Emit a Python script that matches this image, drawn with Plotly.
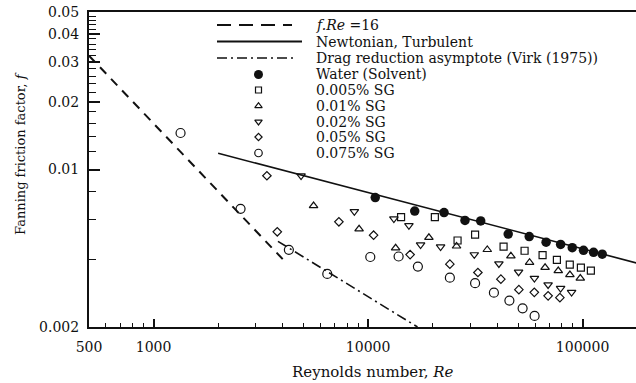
import plotly.graph_objects as go

# ---------------- data ----------------
re_lam = [500, 4000]
f_lam = [0.032, 0.004]
re_newt = [2000, 200000]
f_newt = [0.0118, 0.00374]
re_virk = [3800, 17000]
f_virk = [0.0048, 0.002]

water_re = [10800, 16500, 22600, 28300, 33500, 45000, 56400, 67600, 79000, 89500, 101000, 112500, 123500]
water_f = [0.00751, 0.00654, 0.00644, 0.00594, 0.00591, 0.00517, 0.00504, 0.00476, 0.00465, 0.00450, 0.00438, 0.00429, 0.00421]

sg005_re = [14250, 20480, 26130, 31540, 42820, 53650, 65090, 75900, 87160, 98200, 109300]
sg005_f = [0.00615, 0.00615, 0.00484, 0.00514, 0.00455, 0.00436, 0.00417, 0.00397, 0.00378, 0.00367, 0.00356]

sg01_re = [5570, 9080, 13440, 19210, 25850, 35950, 46320, 56610, 66860, 77030, 87270, 97570]
sg01_f = [0.00690, 0.00544, 0.00448, 0.00499, 0.00457, 0.00441, 0.00413, 0.00387, 0.00367, 0.00355, 0.00341, 0.00329]

sg02_re = [4870, 8630, 13190, 15500, 17570, 21780, 31270, 40720, 50300, 59620, 69060, 78970, 88870]
sg02_f = [0.00938, 0.00651, 0.00604, 0.00564, 0.00463, 0.00454, 0.00419, 0.00382, 0.00351, 0.00329, 0.00308, 0.00297, 0.00285]

sg05_re = [3375, 3773, 7310, 10610, 15700, 24060, 32500, 41600, 50470, 59550, 69060, 78390]
sg05_f = [0.00938, 0.00529, 0.00586, 0.00511, 0.00419, 0.00380, 0.00349, 0.00326, 0.00293, 0.00285, 0.00275, 0.00270]

sg075_re = [1336, 2544, 4273, 6454, 10240, 13880, 17070, 24060, 31540, 38600, 45580, 52530, 59740]
sg075_f = [0.01452, 0.00669, 0.00440, 0.00344, 0.00409, 0.00411, 0.00371, 0.00331, 0.00313, 0.00284, 0.00262, 0.00242, 0.00224]

x_tickvals = [500, 1000, 10000, 100000]
x_ticktext = ["500", "1000", "10000", "100000"]
x_minor = [600, 700, 800, 900, 2000, 3000, 4000, 5000, 6000, 7000, 8000, 9000,
           20000, 30000, 40000, 50000, 60000, 70000, 80000, 90000]
y_tickvals = [0.002, 0.01, 0.02, 0.03, 0.04, 0.05]
y_ticktext = ["0.002", "0.01", "0.02", "0.03", "0.04", "0.05"]
y_minor = [0.004, 0.006, 0.008, 0.012, 0.014, 0.016, 0.018, 0.022, 0.024, 0.026, 0.028,
           0.032, 0.034, 0.036, 0.038, 0.042, 0.044, 0.046, 0.048]

legend_labels = ["<i>f.Re</i> =16", "Newtonian, Turbulent",
                 "Drag reduction asymptote (Virk (1975))", "Water (Solvent)",
                 "0.005% SG", "0.01% SG", "0.02% SG", "0.05% SG", "0.075% SG"]

# ---------------- layout constants ----------------
W, H = 636, 383
ML, MR, MT, MB = 89, 0, 12, 56
PW, PH = W - ML - MR, H - MT - MB
FONT = "DejaVu Serif"
INK = "#111111"


def px(xp):
    return (xp - ML) / PW


def py(yp):
    return (H - MB - yp) / PH


fig = go.Figure()

LAM_DASH = "9px,7px"
VIRK_DASH = "10px,4px,2px,4px"

fig.add_trace(go.Scatter(x=re_lam, y=f_lam, mode="lines",
                         line=dict(color=INK, width=2, dash=LAM_DASH), showlegend=False))
fig.add_trace(go.Scatter(x=re_newt, y=f_newt, mode="lines",
                         line=dict(color=INK, width=1.6), showlegend=False))
fig.add_trace(go.Scatter(x=re_virk, y=f_virk, mode="lines",
                         line=dict(color=INK, width=1.6, dash=VIRK_DASH), showlegend=False))

series = [
    (water_re, water_f, dict(symbol="circle", size=9.5, color=INK, line=dict(width=0))),
    (sg005_re, sg005_f, dict(symbol="square-open", size=7, color=INK, line=dict(width=1.2))),
    (sg01_re, sg01_f, dict(symbol="triangle-up-open", size=7.5, color=INK, line=dict(width=1.2))),
    (sg02_re, sg02_f, dict(symbol="triangle-down-open", size=7.5, color=INK, line=dict(width=1.2))),
    (sg05_re, sg05_f, dict(symbol="diamond-open", size=6.5, color=INK, line=dict(width=1.2))),
    (sg075_re, sg075_f, dict(symbol="circle-open", size=9, color=INK, line=dict(width=1.2))),
]
for xs, ys, mk in series:
    fig.add_trace(go.Scatter(x=xs, y=ys, mode="markers", marker=mk, showlegend=False))

# ---------------- hand-drawn legend (on an overlay paper-like axis) ----------------
row_y = [25, 41.5, 58, 74.5, 90, 106, 121.7, 137, 153]
line_x0 = 217
line_x1 = [292, 302, 297]
line_styles = [dict(color=INK, width=2, dash="14px,8px"),
               dict(color=INK, width=1.8),
               dict(color=INK, width=1.6, dash=VIRK_DASH)]
for i in range(3):
    fig.add_trace(go.Scatter(x=[px(line_x0), px(line_x1[i])], y=[py(row_y[i])] * 2,
                             mode="lines", line=line_styles[i], xaxis="x2", yaxis="y2",
                             showlegend=False, hoverinfo="skip"))
leg_sizes = [9, 6, 6.5, 6.5, 5.5, 7.5]
for k, (xs, ys, mk) in enumerate(series):
    m = dict(mk)
    m["size"] = leg_sizes[k]
    fig.add_trace(go.Scatter(x=[px(258.5)], y=[py(row_y[3 + k])], mode="markers",
                             marker=m, xaxis="x2", yaxis="y2", showlegend=False,
                             hoverinfo="skip"))

annotations = []
for i, lab in enumerate(legend_labels):
    annotations.append(dict(text=lab, x=px(314), y=py(row_y[i]), xref="paper", yref="paper",
                            xanchor="left", yanchor="middle", showarrow=False,
                            font=dict(family=FONT, size=14, color=INK)))
annotations.append(dict(text="Reynolds number, <i>Re</i>", x=px(373), y=py(372),
                        xref="paper", yref="paper", xanchor="center", yanchor="middle",
                        showarrow=False, font=dict(family=FONT, size=15, color=INK)))
annotations.append(dict(text="Fanning friction factor, <i>f</i>", x=px(21), y=py(154),
                        xref="paper", yref="paper", xanchor="center", yanchor="middle",
                        textangle=-90, showarrow=False,
                        font=dict(family=FONT, size=13, color=INK)))

axis_common = dict(type="log", showgrid=False, zeroline=False, showline=True,
                   linecolor=INK, linewidth=2, ticks="inside", tickcolor=INK,
                   tickmode="array", tickfont=dict(family=FONT, size=14, color=INK))

fig.update_layout(
    width=W, height=H,
    margin=dict(l=ML, r=MR, t=MT, b=MB),
    paper_bgcolor="white", plot_bgcolor="white",
    showlegend=False,
    xaxis=dict(axis_common, range=[2.699, 5.249], tickvals=x_tickvals, ticktext=x_ticktext,
               ticklen=8, tickwidth=1.5, mirror=True, ticklabelstandoff=6,
               minor=dict(tickmode="array", tickvals=x_minor, ticks="inside", ticklen=4.5,
                          tickcolor=INK, tickwidth=1.2)),
    yaxis=dict(axis_common, range=[-2.699, -1.301], tickvals=y_tickvals, ticktext=y_ticktext,
               ticklen=11, tickwidth=1.5, ticklabelstandoff=5,
               minor=dict(tickmode="array", tickvals=y_minor, ticks="inside", ticklen=7,
                          tickcolor=INK, tickwidth=1.2)),
    xaxis2=dict(overlaying="x", range=[0, 1], visible=False, fixedrange=True),
    yaxis2=dict(overlaying="y", range=[0, 1], visible=False, fixedrange=True),
    annotations=annotations,
)

fig.write_html("out.html", config={"displayModeBar": False},
               post_script="document.body.style.margin='0';document.body.style.overflow='hidden';")
